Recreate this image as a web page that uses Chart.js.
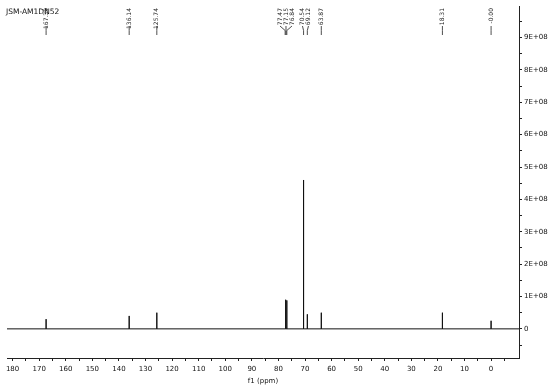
<!DOCTYPE html>
<html>
<head>
<meta charset="utf-8">
<script src="https://cdn.jsdelivr.net/npm/chart.js@4.4.1/dist/chart.umd.min.js"></script>
<style>
html,body{margin:0;padding:0;background:#fff;}
#wrap{width:550px;height:385px;position:relative;}
</style>
</head>
<body>
<div id="wrap"><canvas id="c" width="550" height="385"></canvas></div>
<script>
// Data
const title = "JSM-AM1DN52";
const peakPpm    = [167.39, 136.14, 125.74, 77.47, 77.15, 76.84, 70.54, 69.12, 63.87, 18.31, -0.00];
const peakHeight = [0.30e8, 0.40e8, 0.50e8, 0.90e8, 0.90e8, 0.88e8, 4.60e8, 0.45e8, 0.50e8, 0.50e8, 0.25e8];
const peakLabels = ["167.39","136.14","125.74","77.47","77.15","76.84","70.54","69.12","63.87","18.31","-0.00"];
const xMax = 182.1, xMin = -10.5;
const yMin = -0.9e8, yMax = 9.97e8;
const xTickRange = [-5, 180];      // ticks drawn every 5 ppm, labels every 10
const yTickRange = [-0.5e8, 9.5e8]; // ticks every 0.5E+08, labels every 1E+08
const xAxisTitle = "f1 (ppm)";

// stick spectrum points built from the peak list
const spectrum = [{x:xMax, y:0}];
peakPpm.forEach((p,i)=>{ spectrum.push({x:p,y:0},{x:p,y:peakHeight[i]},{x:p,y:0}); });
spectrum.push({x:xMin, y:0});

const FONT = "DejaVu Sans";

const labelPlugin = {
  id:'peakLabels',
  afterDraw(chart){
    const ctx = chart.ctx, xs = chart.scales.x;
    ctx.save();
    ctx.fillStyle = '#111';
    ctx.font = '7.5px "'+FONT+'"';
    ctx.textAlign='left'; ctx.textBaseline='middle';
    ctx.fillText(title, 6, 12);
    const px = peakPpm.map(p=>xs.getPixelForValue(p));
    const order = px.map((v,i)=>i).sort((a,b)=>px[a]-px[b]);
    const lx = px.slice();
    const minGap = 6;
    let groups=[]; let cur=[order[0]];
    for(let k=1;k<order.length;k++){
      const i=order[k], j=order[k-1];
      if(px[i]-px[j] < minGap) cur.push(i); else {groups.push(cur); cur=[i];}
    }
    groups.push(cur);
    groups.forEach(g=>{
      if(g.length<2) return;
      const c = g.reduce((s,i)=>s+px[i],0)/g.length;
      g.forEach((i,k)=>{ lx[i] = c + (k-(g.length-1)/2)*minGap; });
    });
    ctx.strokeStyle='#222'; ctx.lineWidth=0.8;
    ctx.font = '6px "'+FONT+'"';
    ctx.fillStyle='#222';
    peakLabels.forEach((t,i)=>{
      ctx.save();
      ctx.translate(lx[i], 8);
      ctx.rotate(-Math.PI/2);
      ctx.textAlign='right'; ctx.textBaseline='middle';
      ctx.fillText(t,0,0);
      ctx.restore();
      ctx.beginPath();
      ctx.moveTo(lx[i], 26);
      ctx.lineTo(px[i], 30.5);
      ctx.lineTo(px[i], 35);
      ctx.stroke();
    });
    ctx.restore();
  }
};

function makeTicks(s, range, step, reverse){
  const out = [];
  const n0 = Math.round(range[0]/step), n1 = Math.round(range[1]/step);
  for(let n=n0;n<=n1;n++) out.push({value:n*step});
  if(reverse) out.reverse();
  s.ticks = out;
}

new Chart(document.getElementById('c'), {
  type:'scatter',
  data:{datasets:[{
    data: spectrum, showLine:true, borderColor:'#111', borderWidth:1,
    pointRadius:0, tension:0, fill:false
  }]},
  options:{
    responsive:false, animation:false,
    layout:{padding:{left:7, top:5, right:0, bottom:0}},
    plugins:{legend:{display:false}, tooltip:{enabled:false}},
    scales:{
      x:{
        type:'linear', reverse:true, min:xMin, max:xMax, bounds:'data',
        border:{display:true, color:'#222', width:1},
        grid:{drawOnChartArea:false, drawTicks:true, tickLength:3, color:'#222'},
        afterBuildTicks(s){ makeTicks(s, xTickRange, 5, true); },
        ticks:{autoSkip:false, maxRotation:0, padding:4,
          color:'#111', font:{family:FONT, size:7},
          callback:(v)=>{ const r=Math.round(v); return r%10===0 ? String(r) : ''; }},
        title:{display:true, text:xAxisTitle, color:'#111', font:{family:FONT, size:7}, padding:{top:-3,bottom:0}},
        afterFit(s){ s.height = 27; }
      },
      y:{
        type:'linear', position:'right', min:yMin, max:yMax, bounds:'data',
        border:{display:true, color:'#222', width:1},
        grid:{drawOnChartArea:false, drawTicks:true, tickLength:3, color:'#222'},
        afterBuildTicks(s){ makeTicks(s, yTickRange, 5e7, false); },
        ticks:{autoSkip:false, padding:2,
          color:'#111', font:{family:FONT, size:7},
          callback:(v)=>{ const n=Math.round(v/5e7); if(n%2!==0) return ''; if(n===0) return '0'; return (n/2)+'E+08'; }},
        afterFit(s){ s.width = 31; }
      }
    }
  },
  plugins:[labelPlugin]
});
</script>
</body>
</html>
